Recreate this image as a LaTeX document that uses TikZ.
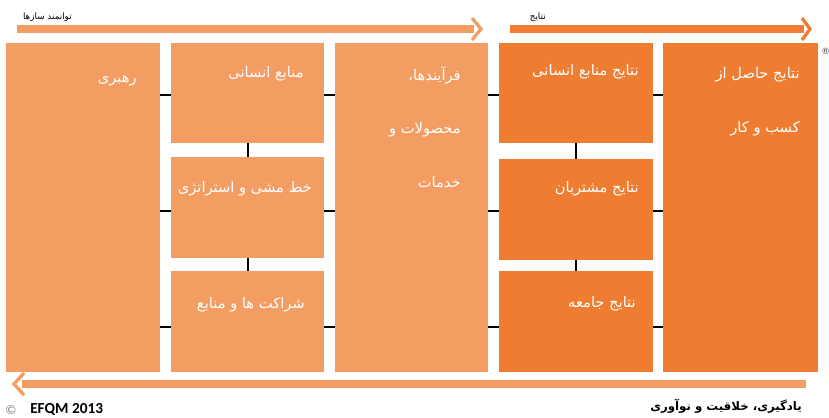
\documentclass[tikz,border=0pt]{standalone}
\usepackage{fontspec}
\setmainfont{Carlito}
\newfontfamily\farsi[Script=Arabic]{DejaVu Sans}
\newfontfamily\symb{DejaVu Sans}
\TeXXeTstate=1
\definecolor{enab}{HTML}{F49D62}
\definecolor{resu}{HTML}{EE7D32}
\begin{document}
\begin{tikzpicture}[x=0.75pt,y=-0.75pt,
  enabler/.style={fill=enab,inner sep=0pt},
  result/.style={fill=resu,inner sep=0pt},
  cell/.style 2 args={minimum width=#1*0.75pt,minimum height=#2*0.75pt},
  txt/.style={text=white,font=\farsi\fontsize{11}{40}\selectfont,anchor=base east,align=right,inner sep=0pt},
  lab/.style={font=\farsi\fontsize{#1}{#1}\selectfont,anchor=base east,inner sep=0pt},
  link/.style={line width=1.5pt},
  head/.style={line width=2.5pt,miter limit=20}]
\useasboundingbox (0,0) rectangle (829,418);
% arrows on top and at the bottom
\fill[enab] (17,25) rectangle (474,33);
\draw[enab,head] (472,18) -- (481,29) -- (472,40);
\fill[resu] (510,25) rectangle (804,33);
\draw[resu,head] (802,18) -- (810,29) -- (802,40);
\fill[enab] (806,380) rectangle (22,388);
\draw[enab,head] (24,373) -- (14,384) -- (24,395);
\node[lab=6.6] (tenab) at (72,19) {\beginR توانمند سازها\endR};
\node[lab=6.6] (tres) at (546,19) {\beginR نتایج\endR};
\node[lab=8.8,font=\farsi\bfseries\fontsize{8.8}{8.8}\selectfont] (tlearn) at (802,410) {\beginR یادگیری، خلاقیت و نوآوری\endR};
\node[anchor=base west,inner sep=0pt,text=gray,font=\fontsize{10}{10}\selectfont] (copy) at (5,414) {©};
\node[anchor=base west,inner sep=0pt,font=\bfseries\fontsize{11.5}{11.5}\selectfont] (efqm) at (30,413) {EFQM 2013};
\node[anchor=base west,inner sep=0pt,text=darkgray,font=\symb\fontsize{6.5}{6.5}\selectfont] (reg) at (821,54) {®};
% boxes
\node[enabler,cell={154}{329}] (lead) at (83,207.5) {};
\node[enabler,cell={153}{100}] (hr) at (247.5,93) {};
\node[enabler,cell={153}{101}] (strat) at (247.5,207.5) {};
\node[enabler,cell={153}{101}] (part) at (247.5,321.5) {};
\node[enabler,cell={153}{329}] (proc) at (411.5,207.5) {};
\node[result,cell={154}{100}] (rhr) at (576,93) {};
\node[result,cell={154}{101}] (rcust) at (576,209.5) {};
\node[result,cell={154}{101}] (rsoc) at (576,321.5) {};
\node[result,cell={155}{329}] (rbiz) at (740.5,207.5) {};
% texts (base of a text with several lines is its last line)
\node[txt] (tlead) at (137,82) {\beginR رهبری\endR};
\node[txt] (thr) at (304,77) {\beginR منابع انسانی\endR};
\node[txt] (tstrat) at (312,192) {\beginR خط مشی و استراتژی\endR};
\node[txt] (tpart) at (305,308) {\beginR شراکت ها و منابع\endR};
\node[txt] (tproc) at (461,187) {\beginR فرآیندها،\endR\\\beginR محصولات و\endR\\\beginR خدمات\endR};
\node[txt] (trhr) at (639,75) {\beginR نتایج منابع انسانی\endR};
\node[txt] (trcust) at (639,192) {\beginR نتایج مشتریان\endR};
\node[txt] (trsoc) at (636,307) {\beginR نتایج جامعه\endR};
\node[txt] (trbiz) at (800,132) {\beginR نتایج حاصل از\endR\\\beginR کسب و کار\endR};
% links
\coordinate (r1) at (0,95);
\coordinate (r2) at (0,211);
\coordinate (r3) at (0,327);
\foreach \a/\b/\r in {lead/hr/r1,hr/proc/r1,proc/rhr/r1,rhr/rbiz/r1,
  lead/strat/r2,strat/proc/r2,proc/rcust/r2,rcust/rbiz/r2,
  lead/part/r3,part/proc/r3,proc/rsoc/r3,rsoc/rbiz/r3}
  \draw[link] (\a.east |- \r) -- (\b.west |- \r);
\draw[link] (hr.south) -- (strat.north);
\draw[link] (strat.south) -- (part.north);
\draw[link] (rhr.south) -- (rcust.north);
\draw[link] (rcust.south) -- (rsoc.north);
\end{tikzpicture}
\end{document}
